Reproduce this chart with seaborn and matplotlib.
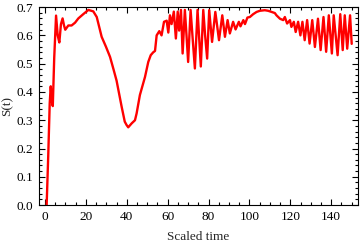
import matplotlib
matplotlib.use("Agg")
import matplotlib.pyplot as plt
import pandas as pd
import seaborn as sns
from matplotlib.ticker import MultipleLocator

# values
time_vals = [
    0.8, 1.6, 2.3, 2.8, 3.3, 3.8, 4.5, 5.4, 6.2, 7.0, 7.8, 8.6, 9.3, 9.9,
    11.4, 13.0, 14.7, 16.3, 18.7, 21.2, 23.6, 25.3, 27.7, 29.8, 31.8, 33.5,
    35.0, 37.5, 39.0, 39.9, 40.7, 42.4, 44.0, 44.8, 46.4, 48.9, 50.5, 51.7,
    52.9, 53.8, 54.6, 55.9, 57.0, 58.2, 59.5, 60.3, 61.1, 61.9, 63.0, 64.0,
    64.9, 65.6, 66.5, 67.3, 68.4, 69.2, 70.0, 71.2, 72.2, 73.3, 74.6, 76.2,
    77.4, 78.3, 79.3, 80.3, 81.7, 83.3, 85.1, 86.7, 88.0, 89.3, 90.4, 92.0,
    93.2, 94.8, 95.6, 97.0, 97.8, 99.0, 100.2, 101.8, 103.5, 105.1, 107.5,
    109.1, 110.8, 112.4, 113.2, 114.9, 116.5, 117.3, 118.4, 119.8, 120.5,
    121.7, 122.6, 123.8, 124.9, 125.9, 127.0, 128.2, 129.4, 130.7, 132.0,
    133.5, 134.8, 136.2, 137.5, 138.8, 140.3, 141.2, 143.1, 144.4, 145.6,
    146.6, 147.8, 149.2, 150.0,
]
s_vals = [
    0.000, 0.180, 0.360, 0.420, 0.370, 0.350, 0.520, 0.670, 0.600, 0.575,
    0.640, 0.660, 0.635, 0.620, 0.635, 0.635, 0.645, 0.660, 0.675, 0.690,
    0.685, 0.665, 0.595, 0.560, 0.524, 0.480, 0.440, 0.347, 0.295, 0.283,
    0.275, 0.289, 0.300, 0.324, 0.389, 0.453, 0.506, 0.530, 0.540, 0.545,
    0.600, 0.615, 0.600, 0.648, 0.652, 0.610, 0.671, 0.640, 0.684, 0.589,
    0.684, 0.617, 0.690, 0.536, 0.690, 0.600, 0.506, 0.690, 0.590, 0.483,
    0.690, 0.490, 0.690, 0.600, 0.518, 0.689, 0.577, 0.683, 0.583, 0.671,
    0.595, 0.654, 0.607, 0.648, 0.621, 0.648, 0.632, 0.654, 0.640, 0.663,
    0.665, 0.675, 0.683, 0.687, 0.689, 0.687, 0.683, 0.679, 0.671, 0.659,
    0.654, 0.665, 0.642, 0.654, 0.630, 0.648, 0.612, 0.648, 0.600, 0.648,
    0.583, 0.654, 0.571, 0.654, 0.559, 0.659, 0.548, 0.665, 0.542, 0.671,
    0.536, 0.671, 0.530, 0.675, 0.548, 0.671, 0.553, 0.671, 0.570,
]

df = pd.DataFrame({"t": time_vals, "S": s_vals})

sns.set_style("ticks")
plt.rcParams["font.family"] = ["Liberation Serif", "DejaVu Serif"]

fig = plt.figure(figsize=(3.6, 2.45), dpi=100)
ax = fig.add_axes([0.108, 0.163, 0.886, 0.808])

sns.lineplot(data=df, x="t", y="S", color="#ff0000", linewidth=1.7, ax=ax, sort=False)

ax.set_xlim(-3, 153)
ax.set_ylim(0, 0.7)
ax.xaxis.set_major_locator(MultipleLocator(20))
ax.xaxis.set_minor_locator(MultipleLocator(5))
ax.yaxis.set_major_locator(MultipleLocator(0.1))
ax.yaxis.set_minor_locator(MultipleLocator(0.02))
ax.yaxis.set_major_formatter(matplotlib.ticker.FormatStrFormatter("%.1f"))

ax.tick_params(which="both", direction="in", top=True, right=True,
               labelsize=9.5, colors="black", width=0.8)
ax.tick_params(which="major", length=4.5, pad=4)
ax.tick_params(which="minor", length=2.5)
for sp in ax.spines.values():
    sp.set_visible(True)
    sp.set_linewidth(0.8)
    sp.set_color("black")

ax.set_xlabel("Scaled time", fontsize=9.5, labelpad=6)
ax.set_ylabel("S(t)", fontsize=9.5)
ax.yaxis.set_label_coords(-0.08, 0.5)

fig.savefig("out.png", dpi=100)
plt.close(fig)
